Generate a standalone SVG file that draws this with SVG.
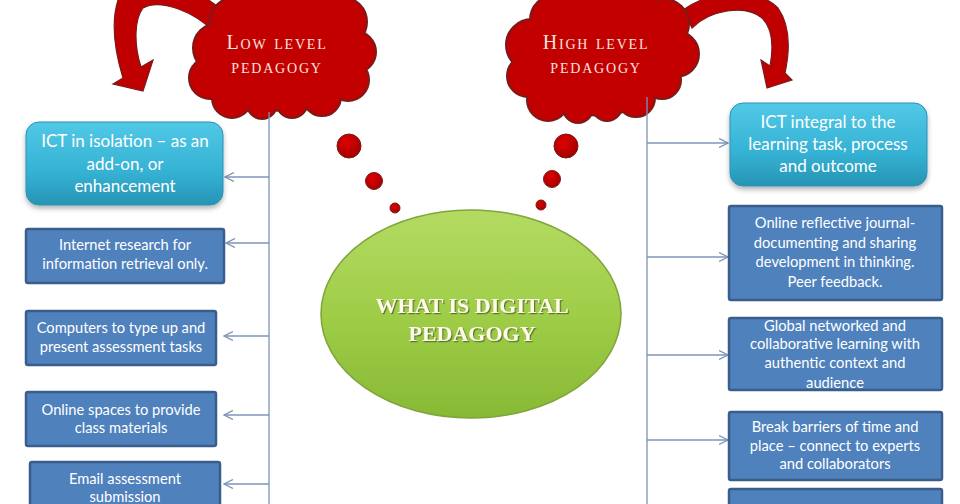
<svg xmlns="http://www.w3.org/2000/svg" xmlns:xlink="http://www.w3.org/1999/xlink" width="960" height="504" viewBox="0 0 960 504">
<defs>
  <linearGradient id="teal" x1="0" y1="0" x2="0" y2="1">
    <stop offset="0" stop-color="#52c8e6"/>
    <stop offset="0.6" stop-color="#35b2d4"/>
    <stop offset="1" stop-color="#2794b5"/>
  </linearGradient>
  <linearGradient id="green" x1="0" y1="0" x2="0" y2="1">
    <stop offset="0" stop-color="#b3db62"/>
    <stop offset="0.5" stop-color="#9fcd48"/>
    <stop offset="1" stop-color="#88b935"/>
  </linearGradient>
  <radialGradient id="dot" cx="0.4" cy="0.35" r="0.7">
    <stop offset="0" stop-color="#e00000"/>
    <stop offset="1" stop-color="#a00000"/>
  </radialGradient>
  <filter id="sh" x="-10%" y="-10%" width="120%" height="130%">
    <feDropShadow dx="0" dy="3" stdDeviation="2.5" flood-color="#000" flood-opacity="0.3"/>
  </filter>
  <filter id="tsh" x="-5%" y="-20%" width="110%" height="150%">
    <feDropShadow dx="1.2" dy="1.2" stdDeviation="0.4" flood-color="#4d6b22" flood-opacity="0.9"/>
  </filter>
  <marker id="ah" viewBox="0 0 10 10" refX="9" refY="5" markerWidth="10" markerHeight="10" markerUnits="userSpaceOnUse" orient="auto">
    <path d="M0,0.5 L9,5 L0,9.5" fill="none" stroke="#7c94b8" stroke-width="1.3"/>
  </marker>
  <g id="cloudL">
    <circle cx="218" cy="48" r="24"/><circle cx="210" cy="78" r="20"/><circle cx="232" cy="98" r="19"/>
    <circle cx="262" cy="104" r="14"/><circle cx="292" cy="102" r="15"/><circle cx="322" cy="97" r="18"/>
    <circle cx="348" cy="80" r="20"/><circle cx="355" cy="52" r="20"/><circle cx="342" cy="22" r="24"/>
    <circle cx="308" cy="8" r="26"/><circle cx="268" cy="8" r="26"/><circle cx="235" cy="22" r="24"/>
    <circle cx="282" cy="58" r="52"/>
  </g>
  <g id="cloudR">
    <circle cx="532" cy="45" r="25"/><circle cx="528" cy="76" r="20"/><circle cx="548" cy="100" r="20"/>
    <circle cx="578" cy="108" r="14"/><circle cx="607" cy="106" r="14"/><circle cx="636" cy="98" r="18"/>
    <circle cx="662" cy="80" r="18"/><circle cx="676" cy="54" r="22"/><circle cx="664" cy="24" r="24"/>
    <circle cx="630" cy="8" r="26"/><circle cx="590" cy="6" r="26"/><circle cx="555" cy="20" r="24"/>
    <circle cx="602" cy="60" r="55"/>
  </g>
</defs>
<style>
  .red { fill: #c30000; }
  .redline { fill: #c30000; stroke: #7a1a1a; stroke-width: 4; }
  .arrow { fill: #c00000; stroke: #7a1a1a; stroke-width: 1.2; }
  .ct { font-family: "Liberation Serif", serif; font-variant: small-caps; font-size: 20px; letter-spacing: 1.8px; fill: #f7e3df; text-anchor: middle; }
  .teal { fill: url(#teal); stroke: #2a93b3; stroke-width: 1; }
  .blue { fill: #4f81bd; stroke: #395e8c; stroke-width: 2.5; }
  .tt { font-family: Lato, "Liberation Sans", sans-serif; font-size: 17px; fill: #ffffff; text-anchor: middle; }
  .bt { font-family: Lato, "Liberation Sans", sans-serif; font-size: 14.7px; fill: #ffffff; text-anchor: middle; }
  .conn { stroke: #7c94b8; stroke-width: 1.3; fill: none; }
  .dot { fill: url(#dot); stroke: #7a1a1a; stroke-width: 1; }
  .mt { font-family: "Liberation Serif", serif; font-weight: bold; font-size: 22px; fill: #fffbe8; text-anchor: middle; }
</style>

<g id="arrow-left">
  <path class="arrow" d="M123 78 C116 55 110 25 118 0 C130 -30 190 -20 224 12 L214 32 C195 12 160 -2 143 8 C134 20 134 45 141 67 L153 60 L143 91 L113 84 Z"/>
</g>
<g id="arrow-right">
  <path class="arrow" d="M683 10 C710 -10 760 -12 778 8 C790 25 790 50 785 73 L792 80 L767 88 L761 60 L770 66 C774 45 772 28 762 18 C745 4 710 10 692 28 Z"/>
</g>

<g id="cloud-low">
  <use xlink:href="#cloudL" class="redline"/>
  <use xlink:href="#cloudL" class="red"/>
  <ellipse class="red" cx="282" cy="60" rx="68" ry="46"/>
  <text class="ct" x="277" y="49">Low level</text>
  <text class="ct" x="277" y="73">pedagogy</text>
</g>
<g id="cloud-high">
  <use xlink:href="#cloudR" class="redline"/>
  <use xlink:href="#cloudR" class="red"/>
  <ellipse class="red" cx="602" cy="60" rx="70" ry="48"/>
  <text class="ct" x="596" y="49">High level</text>
  <text class="ct" x="596" y="73">pedagogy</text>
</g>

<g id="bubbles">
  <circle class="dot" cx="349" cy="146" r="12"/>
  <circle class="dot" cx="374" cy="181" r="8.5"/>
  <circle class="dot" cx="395" cy="208" r="5"/>
  <circle class="dot" cx="566" cy="146" r="12"/>
  <circle class="dot" cx="552" cy="179" r="8.5"/>
  <circle class="dot" cx="541" cy="205" r="5"/>
</g>

<g id="center">
  <ellipse cx="471" cy="314" rx="150" ry="104" fill="url(#green)" stroke="#7ea43a" stroke-width="1.5"/>
  <text class="mt" x="472" y="313" filter="url(#tsh)">WHAT IS DIGITAL</text>
  <text class="mt" x="472" y="341" filter="url(#tsh)">PEDAGOGY</text>
</g>

<g id="connectors">
  <line class="conn" x1="269" y1="112" x2="269" y2="504"/>
  <line class="conn" x1="269" y1="177" x2="225" y2="177" marker-end="url(#ah)"/>
  <line class="conn" x1="269" y1="243" x2="226" y2="243" marker-end="url(#ah)"/>
  <line class="conn" x1="269" y1="336" x2="224" y2="336" marker-end="url(#ah)"/>
  <line class="conn" x1="269" y1="415" x2="224" y2="415" marker-end="url(#ah)"/>
  <line class="conn" x1="269" y1="484" x2="224" y2="484" marker-end="url(#ah)"/>
  <line class="conn" x1="647" y1="97" x2="647" y2="504"/>
  <line class="conn" x1="647" y1="143" x2="728" y2="143" marker-end="url(#ah)"/>
  <line class="conn" x1="647" y1="257" x2="728" y2="257" marker-end="url(#ah)"/>
  <line class="conn" x1="647" y1="355" x2="728" y2="355" marker-end="url(#ah)"/>
  <line class="conn" x1="647" y1="440" x2="728" y2="440" marker-end="url(#ah)"/>
</g>

<g id="left-ict">
  <rect class="teal" x="26" y="122" width="197" height="83" rx="13" filter="url(#sh)"/>
  <text class="tt" x="125" y="147">ICT in isolation – as an</text>
  <text class="tt" x="125" y="170">add-on, or</text>
  <text class="tt" x="125" y="192">enhancement</text>
</g>
<g id="left-internet">
  <rect class="blue" x="26" y="229" width="198" height="54" rx="2"/>
  <text class="bt" x="125" y="250">Internet research for</text>
  <text class="bt" x="125" y="269">information retrieval only.</text>
</g>
<g id="left-computers">
  <rect class="blue" x="26" y="311" width="190" height="54" rx="2"/>
  <text class="bt" x="121" y="333">Computers to type up and</text>
  <text class="bt" x="121" y="352">present assessment tasks</text>
</g>
<g id="left-online">
  <rect class="blue" x="26" y="392" width="190" height="54" rx="2"/>
  <text class="bt" x="121" y="415">Online spaces to provide</text>
  <text class="bt" x="121" y="433">class materials</text>
</g>
<g id="left-email">
  <rect class="blue" x="30" y="462" width="190" height="54" rx="2"/>
  <text class="bt" x="125" y="484">Email  assessment</text>
  <text class="bt" x="125" y="502">submission</text>
</g>

<g id="right-ict">
  <rect class="teal" x="730" y="103" width="197" height="83" rx="13" filter="url(#sh)"/>
  <text class="tt" x="828" y="128">ICT integral to the</text>
  <text class="tt" x="828" y="150">learning task, process</text>
  <text class="tt" x="828" y="172">and outcome</text>
</g>
<g id="right-journal">
  <rect class="blue" x="729" y="206" width="213" height="94" rx="2"/>
  <text class="bt" x="835" y="228">Online reflective journal-</text>
  <text class="bt" x="835" y="248">documenting  and sharing</text>
  <text class="bt" x="835" y="267">development  in thinking.</text>
  <text class="bt" x="835" y="287">Peer feedback.</text>
</g>
<g id="right-global">
  <rect class="blue" x="729" y="318" width="213" height="72" rx="2"/>
  <text class="bt" x="835" y="331">Global networked  and</text>
  <text class="bt" x="835" y="349">collaborative learning with</text>
  <text class="bt" x="835" y="368">authentic context and</text>
  <text class="bt" x="835" y="388">audience</text>
</g>
<g id="right-barriers">
  <rect class="blue" x="729" y="412" width="213" height="68" rx="2"/>
  <text class="bt" x="835" y="432">Break barriers of time and</text>
  <text class="bt" x="835" y="451">place – connect to experts</text>
  <text class="bt" x="835" y="469">and collaborators</text>
</g>
<g id="right-more">
  <rect class="blue" x="729" y="489" width="213" height="40" rx="2"/>
</g>
</svg>
